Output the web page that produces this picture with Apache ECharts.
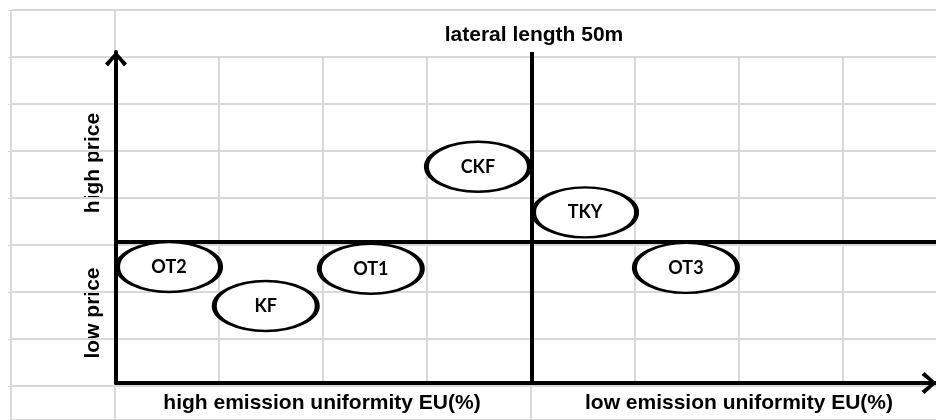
<!DOCTYPE html>
<html>
<head>
<meta charset="utf-8">
<title>lateral length 50m</title>
<script src="https://cdn.jsdelivr.net/npm/echarts@6/dist/echarts.min.js"></script>
<style>
html, body { margin: 0; padding: 0; background: #fff; }
#chart { width: 936px; height: 420px; }
</style>
</head>
<body>
<div id="chart"></div>
<script>
// products, placed in sheet cells counted from the lower-left corner of the quadrant
var products = ['OT2', 'KF', 'OT1', 'CKF', 'TKY', 'OT3'];
var uniformityPos = [0.51, 1.44, 2.45, 3.48, 4.51, 5.48];
var pricePos = [2.47, 1.64, 2.43, 4.60, 3.63, 2.45];

// where the quadrant is split
var splitUniformity = 4;
var splitPrice = 3;

var chartTitle = 'lateral length 50m';
var priceLabels = ['high price', 'low price'];
var uniformityLabels = ['high emission uniformity EU(%)', 'low emission uniformity EU(%)'];

// spreadsheet cell size behind the drawing
var COL_W = 104, ROW_H = 47;
var W = 936, H = 420;
var sheetMaxX = (W - 11) / COL_W;
var sheetMaxY = (H - 10) / ROW_H;
var quadMaxX = (W - 116) / COL_W;
var quadMaxY = (383 - 52) / ROW_H;

var GRAY = '#d9d9d9';
var BIG = 'bold 21px "Liberation Sans", Arial, sans-serif';
var ARROW = 'path://M11,0L22,12L19,15L11,5L3,15L0,12Z';

// vertical sheet lines; the title row and the label row are merged cells
var colLines = [];
for (var c = 0; c <= 8; c++) {
	var rowFrom = c <= 1 ? 0 : 1;
	var rowTo = (c <= 1 || c === 5) ? sheetMaxY : 8;
	colLines.push({ coords: [[c, rowFrom], [c, rowTo]] });
}

var points = products.map(function (name, i) {
	return { name: name, value: [uniformityPos[i], pricePos[i]] };
});

function hidden(ax) {
	ax.axisLabel = { show: false };
	ax.axisTick = ax.axisTick || { show: false };
	ax.splitLine = ax.splitLine || { show: false };
	return ax;
}

function arrowAxis(ax) {
	ax.z = 10;
	ax.axisLine = {
		show: true,
		onZero: false,
		symbol: ['none', ARROW],
		symbolSize: [22, 15],
		symbolOffset: [0, -7],
		lineStyle: { color: '#000', width: 4 }
	};
	return hidden(ax);
}

function bigText(text, x, y, rot) {
	return {
		type: 'text', x: x, y: y, rotation: rot || 0, silent: true,
		style: { text: text, font: BIG, fill: '#000', align: 'center', verticalAlign: 'middle' }
	};
}

var chart = echarts.init(document.getElementById('chart'));

chart.setOption({
	animation: false,
	backgroundColor: '#fff',
	grid: [
		{ left: 11, top: 10, right: 0, bottom: 0 },
		{ left: 116, top: 52, right: 0, bottom: H - 383 }
	],
	xAxis: [
		hidden({ gridIndex: 0, type: 'value', min: 0, max: sheetMaxX, interval: 1, axisLine: { show: false } }),
		arrowAxis({ gridIndex: 1, type: 'value', min: 0, max: quadMaxX })
	],
	yAxis: [
		hidden({
			gridIndex: 0, type: 'value', inverse: true, min: 0, max: sheetMaxY, interval: 1,
			axisLine: { show: false },
			axisTick: { show: true, length: 3, lineStyle: { color: GRAY, width: 1 } },
			splitLine: { show: true, lineStyle: { color: GRAY, width: 2 } }
		}),
		arrowAxis({ gridIndex: 1, type: 'value', min: 0, max: quadMaxY })
	],
	graphic: [
		bigText(chartTitle, 534, 35),
		bigText(priceLabels[0], 93, 163, Math.PI / 2),
		bigText(priceLabels[1], 93, 313, Math.PI / 2),
		bigText(uniformityLabels[0], 322, 403),
		bigText(uniformityLabels[1], 739, 403)
	],
	series: [
		{
			type: 'lines',
			coordinateSystem: 'cartesian2d',
			xAxisIndex: 0,
			yAxisIndex: 0,
			z: 1,
			silent: true,
			lineStyle: { color: GRAY, width: 2, opacity: 1 },
			data: colLines
		},
		{
			type: 'scatter',
			xAxisIndex: 1,
			yAxisIndex: 1,
			z: 20,
			symbol: 'circle',
			symbolSize: [103, 50],
			itemStyle: { color: '#fff', borderColor: '#000', borderWidth: 3.5, opacity: 1 },
			label: {
				show: true,
				position: 'inside',
				formatter: '{b}',
				color: '#000',
				fontSize: 18,
				fontWeight: 'bold',
				fontFamily: '"Liberation Sans Narrow", Lato, sans-serif'
			},
			emphasis: { disabled: true },
			data: points,
			markLine: {
				silent: true,
				animation: false,
				symbol: ['none', 'none'],
				label: { show: false },
				lineStyle: { color: '#000', width: 4, type: 'solid' },
				data: [{ xAxis: splitUniformity }, { yAxis: splitPrice }]
			}
		}
	]
});
</script>
</body>
</html>
